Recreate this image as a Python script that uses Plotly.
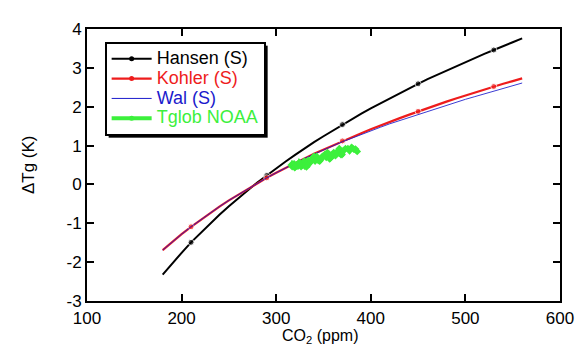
import plotly.graph_objects as go

# ---- data ----
co2 = [180, 190, 200, 210, 220, 230, 240, 250, 260, 270, 280, 290, 300, 310, 320,
       330, 340, 350, 360, 370, 380, 390, 400, 410, 420, 430, 440, 450, 460, 470,
       480, 490, 500, 510, 520, 530, 540, 550, 560]

hansen = [-2.32, -2.03, -1.76, -1.49, -1.25, -1.01, -0.78, -0.56, -0.35, -0.15, 0.05,
          0.23, 0.42, 0.59, 0.76, 0.93, 1.09, 1.24, 1.39, 1.54, 1.68, 1.82, 1.96, 2.09,
          2.22, 2.35, 2.47, 2.59, 2.71, 2.82, 2.93, 3.05, 3.15, 3.26, 3.36, 3.46, 3.57,
          3.66, 3.76]

kohler = [-1.69, -1.48, -1.28, -1.09, -0.91, -0.74, -0.57, -0.41, -0.26, -0.11, 0.03,
          0.17, 0.30, 0.43, 0.55, 0.67, 0.79, 0.90, 1.01, 1.12, 1.22, 1.32, 1.42, 1.52,
          1.61, 1.70, 1.79, 1.88, 1.97, 2.05, 2.13, 2.21, 2.29, 2.37, 2.44, 2.52, 2.59,
          2.66, 2.73]

wal = [-1.69, -1.48, -1.28, -1.09, -0.91, -0.74, -0.57, -0.41, -0.26, -0.11, 0.03,
       0.17, 0.30, 0.43, 0.55, 0.67, 0.78, 0.89, 0.99, 1.10, 1.19, 1.29, 1.38, 1.47,
       1.56, 1.64, 1.73, 1.81, 1.89, 1.97, 2.04, 2.11, 2.19, 2.26, 2.33, 2.40, 2.47,
       2.54, 2.61]

marker_co2 = [210, 290, 370, 450, 530]

noaa_co2 = [316.0, 316.9, 317.6, 318.5, 319.0, 319.6, 320.0, 321.4, 322.2, 323.0,
            324.6, 325.7, 326.3, 327.5, 329.7, 330.2, 331.1, 332.0, 333.8, 335.4,
            336.8, 338.7, 339.9, 341.1, 342.8, 344.4, 345.9, 347.2, 348.9, 351.5,
            352.9, 354.2, 355.6, 356.4, 357.1, 358.8, 360.8, 362.6, 363.7, 366.7,
            368.4, 369.6, 371.1, 373.2, 375.8, 377.5, 379.8, 381.9, 383.8, 385.6]
noaa_t = [0.50, 0.46, 0.52, 0.50, 0.53, 0.43, 0.45, 0.49, 0.51, 0.47,
          0.56, 0.53, 0.46, 0.50, 0.60, 0.47, 0.51, 0.45, 0.62, 0.55,
          0.61, 0.68, 0.72, 0.60, 0.72, 0.62, 0.60, 0.64, 0.72, 0.77,
          0.70, 0.82, 0.78, 0.66, 0.67, 0.72, 0.82, 0.74, 0.82, 0.92,
          0.77, 0.77, 0.87, 0.92, 0.92, 0.87, 0.95, 0.91, 0.91, 0.85]

x_ticks = [100, 200, 300, 400, 500, 600]
y_ticks = [-3, -2, -1, 0, 1, 2, 3, 4]
y_ticktext = ["-3", "-2", "-1", "0", "1", "2", "3", "4"]

BLACK = "#000000"
RED = "#ee1c1c"
BLUE = "#1a1acc"
GREEN = "#3cf03c"
FONT = "Liberation Sans, Arial, Helvetica, sans-serif"

msize = [6 if c in marker_co2 else 0 for c in co2]


def lbl(text, color):
    return f"<span style='font-size:18px;color:{color}'>{text}</span>"


fig = go.Figure()
# data traces
fig.add_trace(go.Scatter(x=co2, y=hansen, mode="lines+markers", showlegend=False,
                         line=dict(color=BLACK, width=2),
                         marker=dict(color=BLACK, size=msize, symbol="circle")))
fig.add_trace(go.Scatter(x=co2, y=kohler, mode="lines+markers", showlegend=False,
                         line=dict(color=RED, width=2.2),
                         marker=dict(color=RED, size=msize, symbol="circle")))
fig.add_trace(go.Scatter(x=co2, y=wal, mode="lines", showlegend=False,
                         line=dict(color=BLUE, width=1), opacity=0.85))
fig.add_trace(go.Scatter(x=noaa_co2, y=noaa_t, mode="lines+markers", showlegend=False,
                         line=dict(color=GREEN, width=5),
                         marker=dict(color=GREEN, size=6, symbol="diamond")))

# legend entries (same styling as the data traces)
legend_items = [("Hansen (S)", BLACK, 2, 5, "lines+markers"),
                ("Kohler (S)", RED, 2.2, 5, "lines+markers"),
                ("Wal (S)", BLUE, 1, 0, "lines"),
                ("Tglob NOAA", GREEN, 4, 5, "lines+markers")]
for name, col, lw, ms, mode in legend_items:
    fig.add_trace(go.Scatter(x=[None], y=[None], mode=mode, name=lbl(name, col),
                             line=dict(color=col, width=lw),
                             marker=dict(color=col, size=ms)))

fig.add_annotation(text="CO<sub>2</sub> (ppm)", xref="paper", yref="paper",
                   x=0.4917, y=-0.0932, xanchor="center", yanchor="top",
                   showarrow=False, borderpad=0, font=dict(size=16))
fig.add_annotation(text="ΔTg (K)", xref="paper", yref="paper",
                   x=-0.1245, y=0.5, xanchor="center", yanchor="middle", textangle=-90,
                   showarrow=False, font=dict(size=17))

fig.update_layout(
    width=578, height=348,
    margin=dict(l=79, r=17, t=14, b=55),
    paper_bgcolor="white", plot_bgcolor="white",
    font=dict(family=FONT, size=17, color="black"),
    showlegend=True,
    legend=dict(x=0.0373, y=0.9534, xanchor="left", yanchor="top",
                bgcolor="white", bordercolor="black", borderwidth=2,
                font=dict(family=FONT, size=13, color="black"),
                itemwidth=40, tracegroupgap=0),
    xaxis=dict(range=[100, 600], tickmode="array", tickvals=x_ticks,
               ticks="inside", ticklen=7, tickwidth=1.5, tickcolor="black",
               showline=True, linewidth=2, linecolor="black", mirror="ticks",
               showgrid=False, zeroline=False, ticklabelstandoff=1,
               tickfont=dict(size=17)),
    yaxis=dict(range=[-3, 4], tickmode="array", tickvals=y_ticks, ticktext=y_ticktext,
               ticks="inside", ticklen=7, tickwidth=1.5, tickcolor="black",
               showline=True, linewidth=2, linecolor="black", mirror="ticks",
               showgrid=False, zeroline=False,
               tickfont=dict(size=17)),
)

# drop shadow behind the legend box (sized from the rendered legend)
shadow_js = """
try {
  var gd = document.querySelector('.plotly-graph-div');
  var addShadow = function() {
    var bg = gd.querySelector('g.legend rect.bg');
    if (!bg) return;
    var old = gd.querySelector('rect.legend-shadow');
    if (old) old.parentNode.removeChild(old);
    var r = document.createElementNS('http://www.w3.org/2000/svg', 'rect');
    r.setAttribute('class', 'legend-shadow');
    r.setAttribute('x', String((parseFloat(bg.getAttribute('x')) || 0) + 3));
    r.setAttribute('y', String((parseFloat(bg.getAttribute('y')) || 0) + 3));
    r.setAttribute('width', bg.getAttribute('width'));
    r.setAttribute('height', bg.getAttribute('height'));
    r.style.fill = '#000000';
    bg.parentNode.insertBefore(r, bg);
  };
  addShadow();
  setTimeout(addShadow, 50);
} catch (e) {}
"""

fig.write_html("out.html", post_script=shadow_js)
